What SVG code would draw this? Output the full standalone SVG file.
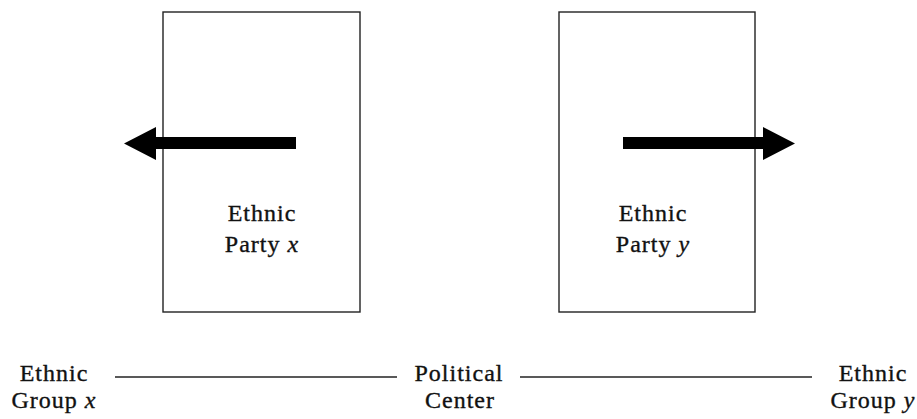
<svg xmlns="http://www.w3.org/2000/svg" width="917" height="419" viewBox="0 0 917 419">
<style>
.box{fill:#fff;stroke:#222;stroke-width:1.4}
.it{font-style:italic}
.axis{stroke:#222;stroke-width:1.4;fill:none}
.arrow{fill:#000}
</style>
<rect width="917" height="419" fill="#fff"/>
<g font-family="Liberation Serif" font-size="24" fill="#111" stroke="#111" stroke-width="0.35" letter-spacing="1" text-anchor="middle">
<g id="party-x">
<rect class="box" x="163" y="12" width="197" height="300"/>
<text x="262" y="221">Ethnic</text>
<text x="262" y="252">Party <tspan class="it">x</tspan></text>
</g>
<g id="party-y">
<rect class="box" x="559" y="12" width="196" height="300"/>
<text x="653" y="221">Ethnic</text>
<text x="653" y="252">Party <tspan class="it">y</tspan></text>
</g>
<g id="group-x">
<text x="54" y="381">Ethnic</text>
<text x="54" y="408">Group <tspan class="it">x</tspan></text>
</g>
<g id="political-center">
<text x="459" y="381">Political</text>
<text x="460" y="408">Center</text>
</g>
<g id="group-y">
<text x="873" y="381">Ethnic</text>
<text x="873" y="408">Group <tspan class="it">y</tspan></text>
</g>
</g>
<g id="connectors">
<line class="axis" x1="115" y1="377" x2="397" y2="377"/>
<line class="axis" x1="520" y1="377" x2="812" y2="377"/>
<polygon class="arrow" points="296,137 156,137 156,127 124,143.5 156,160 156,149 296,149"/>
<polygon class="arrow" points="623,137 763,137 763,127 795,143.5 763,160 763,149 623,149"/>
</g>
</svg>
